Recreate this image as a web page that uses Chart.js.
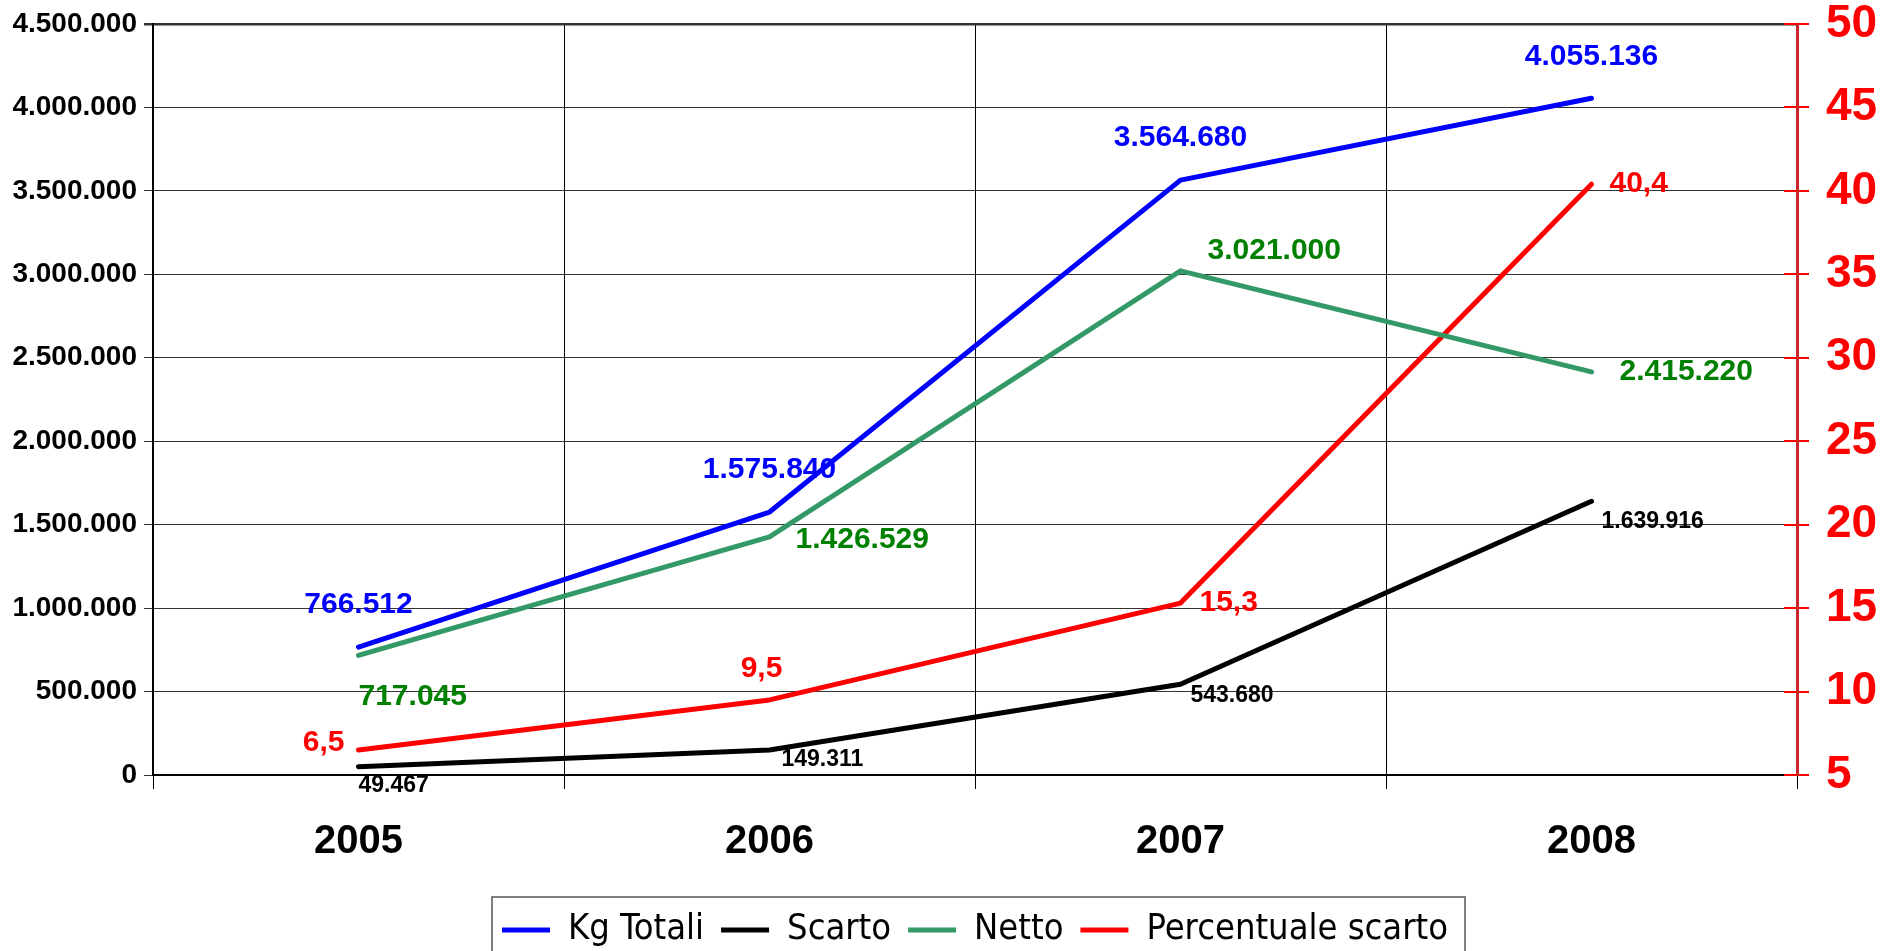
<!DOCTYPE html>
<html>
<head>
<meta charset="utf-8">
<title>Kg Totali, Scarto, Netto</title>
<script src="https://cdn.jsdelivr.net/npm/chart.js@4.4.1/dist/chart.umd.min.js"></script>
<style>
  html, body { margin: 0; padding: 0; background: #fff; }
  #box { width: 1887px; height: 951px; position: relative; }
</style>
</head>
<body>
<div id="box"><canvas id="grafico"></canvas></div>
<script>
/* globals Chart:false */
(() => {
  'use strict'

  // dati
  const anni = ['2005', '2006', '2007', '2008']
  const kgTotali = [766512, 1575840, 3564680, 4055136]
  const scarto = [49467, 149311, 543680, 1639916]
  const netto = [717045, 1426529, 3021000, 2415220]
  const percScarto = [6.5, 9.5, 15.3, 40.4]

  // assi
  const kgMin = 0, kgMax = 4500000, kgStep = 500000
  const percMin = 5, percMax = 50, percStep = 5

  const FONT = "'Liberation Sans', Arial, sans-serif"
  const CONDENSED = "'DejaVu Sans Condensed', 'Liberation Sans', sans-serif"

  const puntini = v => String(Math.round(v)).replace(/\B(?=(\d{3})+(?!\d))/g, '.')
  const virgola = v => String(v).replace('.', ',')

  // posizione delle etichette rispetto al punto (solo stile)
  const posBlu = [[0, -42, 'center'], [0, -42, 'center'], [0, -42, 'center'], [0, -42, 'center']]
  const posVerde = [[0, 41, 'left'], [26, 3, 'left'], [27, -20, 'left'], [28, 0, 'left']]
  const posNero = [[0, 19, 'left'], [12, 10, 'left'], [10, 11, 'left'], [10, 20, 'left']]
  const posRosso = [[-14, -7, 'right'], [-8, -31, 'center'], [19, 0, 'left'], [18, 0, 'left']]

  const etichette = {
    id: 'etichette',
    afterDatasetsDraw(chart) {
      const ctx = chart.ctx
      ctx.save()
      ctx.textBaseline = 'middle'
      chart.data.datasets.forEach((ds, i) => {
        const meta = chart.getDatasetMeta(i)
        if (meta.hidden) return
        meta.data.forEach((pt, j) => {
          const p = ds.lblPos[j]
          ctx.font = ds.lblFont
          ctx.fillStyle = ds.lblColor
          ctx.textAlign = p[2]
          ctx.fillText(ds.lblFmt(ds.data[j]), pt.x + p[0], pt.y + p[1])
        })
      })
      ctx.restore()
    }
  }

  // tacche rosse interne sull'asse destro + cornice legenda
  const rifiniture = {
    id: 'rifiniture',
    afterDraw(chart) {
      const ctx = chart.ctx
      const y2 = chart.scales.y2
      const area = chart.chartArea
      ctx.save()
      ctx.strokeStyle = '#ff0000'
      ctx.lineWidth = 2
      y2.ticks.forEach(t => {
        const y = Math.round(y2.getPixelForValue(t.value))
        ctx.beginPath()
        ctx.moveTo(area.right - 13, y)
        ctx.lineTo(area.right, y)
        ctx.stroke()
      })
      const hb = chart.legend.legendHitBoxes
      if (hb && hb.length) {
        const l = Math.min(...hb.map(h => h.left))
        const r = Math.max(...hb.map(h => h.left + h.width))
        const t = hb[0].top
        ctx.strokeStyle = '#555'
        ctx.lineWidth = 1.5
        ctx.strokeRect(l - 10, t - 15, r - l + 27, chart.height)
      }
      ctx.restore()
    }
  }

  const ctx = document.getElementById('grafico')
  // eslint-disable-next-line no-unused-vars
  const grafico = new Chart(ctx, {
    type: 'line',
    data: {
      labels: anni,
      datasets: [{
        label: 'Kg Totali',
        data: kgTotali,
        yAxisID: 'y',
        borderColor: '#0000ff',
        backgroundColor: '#0000ff',
        borderWidth: 5,
        lblColor: '#0000ff',
        lblFont: 'bold 30px ' + FONT,
        lblPos: posBlu,
        lblFmt: puntini
      }, {
        label: 'Scarto',
        data: scarto,
        yAxisID: 'y',
        borderColor: '#000000',
        backgroundColor: '#000000',
        borderWidth: 5,
        lblColor: '#000000',
        lblFont: 'bold 23px ' + FONT,
        lblPos: posNero,
        lblFmt: puntini
      }, {
        label: 'Netto',
        data: netto,
        yAxisID: 'y',
        borderColor: '#339966',
        backgroundColor: '#339966',
        borderWidth: 5,
        lblColor: '#008000',
        lblFont: 'bold 30px ' + FONT,
        lblPos: posVerde,
        lblFmt: puntini
      }, {
        label: 'Percentuale scarto',
        data: percScarto,
        yAxisID: 'y2',
        borderColor: '#ff0000',
        backgroundColor: '#ff0000',
        borderWidth: 5,
        lblColor: '#ff0000',
        lblFont: 'bold 30px ' + FONT,
        lblPos: posRosso,
        lblFmt: virgola
      }]
    },
    options: {
      responsive: true,
      maintainAspectRatio: false,
      animation: false,
      elements: {
        line: { tension: 0, borderCapStyle: 'round', borderJoinStyle: 'round' },
        point: { radius: 0, hoverRadius: 0 }
      },
      layout: { autoPadding: false, padding: { left: 0, right: 0, top: 24, bottom: -7 } },
      scales: {
        x: {
          offset: true,
          grid: { offset: true, color: '#000', lineWidth: 1, tickLength: 14 },
          border: { color: '#000', width: 2 },
          ticks: {
            color: '#000',
            padding: 20,
            font: { family: FONT, size: 40, weight: 'bold', lineHeight: 1.65 }
          }
        },
        y: {
          position: 'left',
          min: kgMin,
          max: kgMax,
          afterFit: s => { s.width = 153; s.paddingTop = 0; s.paddingBottom = 0 },
          grid: {
            color: '#333',
            lineWidth: c => (c.tick && c.tick.value === kgMax ? 2.5 : 1),
            tickLength: 9
          },
          border: { color: '#000', width: 2 },
          ticks: {
            stepSize: kgStep,
            color: '#000',
            padding: 7,
            font: { family: FONT, size: 28, weight: 'bold' },
            callback: v => puntini(v)
          }
        },
        y2: {
          position: 'right',
          min: percMin,
          max: percMax,
          afterFit: s => { s.width = 90; s.paddingTop = 0; s.paddingBottom = 0 },
          grid: { drawOnChartArea: false, color: '#ff0000', lineWidth: 2, tickLength: 12 },
          border: { color: '#c8282d', width: 3 },
          ticks: {
            stepSize: percStep,
            color: '#ff0000',
            padding: 17,
            font: { family: FONT, size: 46, weight: 'bold' }
          }
        }
      },
      plugins: {
        legend: {
          position: 'bottom',
          fullSize: false,
          labels: {
            color: '#000',
            font: { family: CONDENSED, size: 36 },
            usePointStyle: true,
            pointStyle: 'line',
            pointStyleWidth: 48,
            padding: 17
          }
        },
        tooltip: { enabled: false }
      }
    },
    plugins: [etichette, rifiniture]
  })
})()
</script>
</body>
</html>
